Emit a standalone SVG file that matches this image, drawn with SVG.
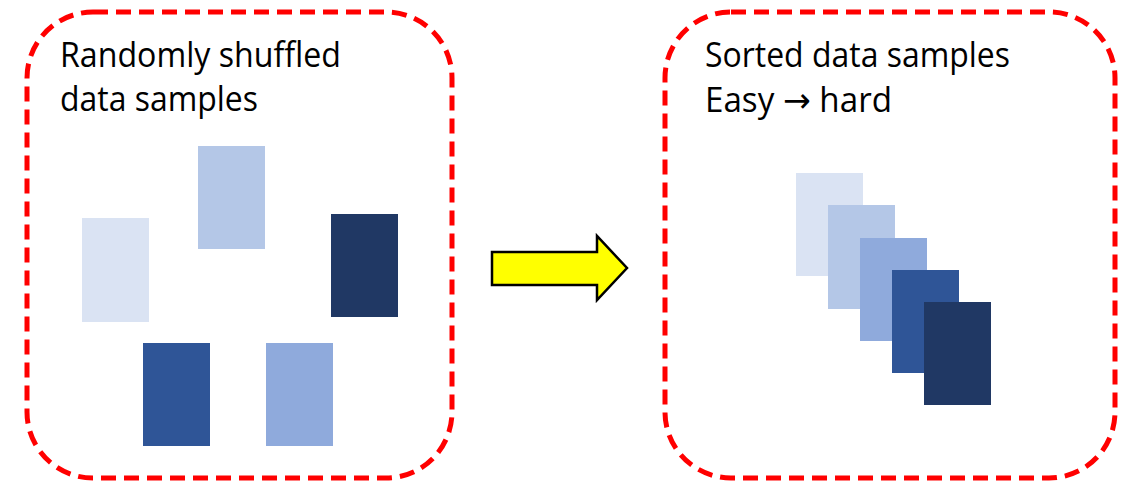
<svg xmlns="http://www.w3.org/2000/svg" width="1132" height="485" viewBox="0 0 1132 485">
<style>
.box{fill:none;stroke:#FF0000;stroke-width:5;stroke-dasharray:15 8}
.t{font-family:"Open Sans","Liberation Sans",sans-serif;font-size:34px;fill:#000}
.ar{font-family:"DejaVu Sans",sans-serif}
.c1{fill:#DAE3F3}.c2{fill:#B4C7E7}.c3{fill:#8FAADC}.c4{fill:#2F5597}.c5{fill:#203864}
</style>
<rect width="1132" height="485" fill="#fff"/>
<g id="left-group">
<rect class="box" x="27" y="12" width="425" height="466" rx="66" ry="66"/>
<text class="t" x="60" y="67" textLength="281" lengthAdjust="spacingAndGlyphs">Randomly shuffled</text>
<text class="t" x="60" y="111" textLength="198" lengthAdjust="spacingAndGlyphs">data samples</text>
<rect class="c1" x="82" y="218" width="67" height="104"/>
<rect class="c2" x="198" y="146" width="67" height="103"/>
<rect class="c5" x="331" y="214" width="67" height="103"/>
<rect class="c4" x="143" y="343" width="67" height="103"/>
<rect class="c3" x="266" y="343" width="67" height="103"/>
</g>
<g id="right-group">
<rect class="box" x="665" y="12" width="450" height="466" rx="66" ry="66"/>
<text class="t" x="705" y="67" textLength="305" lengthAdjust="spacingAndGlyphs">Sorted data samples</text>
<text class="t" x="705" y="112" textLength="187" lengthAdjust="spacingAndGlyphs">Easy <tspan class="ar">→</tspan> hard</text>
<rect class="c1" x="796" y="173" width="67" height="103"/>
<rect class="c2" x="828" y="205" width="67" height="104"/>
<rect class="c3" x="860" y="238" width="67" height="103"/>
<rect class="c4" x="892" y="270" width="67" height="103"/>
<rect class="c5" x="924" y="302" width="67" height="103"/>
</g>
<g id="connectors">
<polygon points="492,252 597,252 597,236 627,268 597,300 597,285 492,285" fill="#FFFF00" stroke="#000" stroke-width="2.5" stroke-linejoin="miter"/>
</g>
</svg>
